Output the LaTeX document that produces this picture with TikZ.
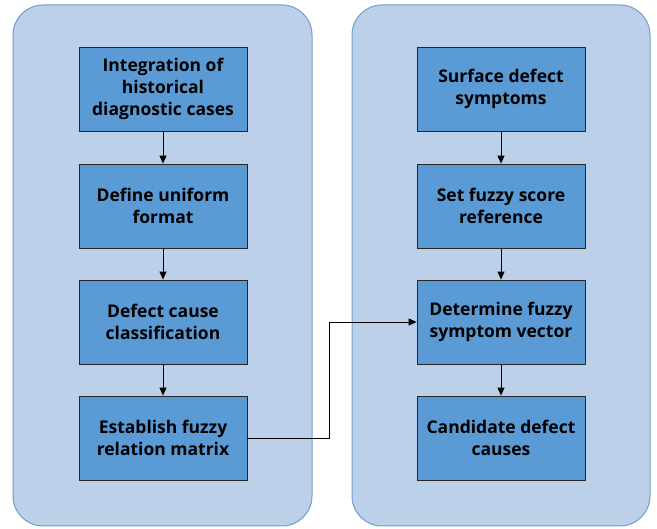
\documentclass[tikz,border=0pt]{standalone}
\usepackage{fontspec}
\setmainfont{Open Sans}
\usetikzlibrary{arrows.meta}
\definecolor{panelfill}{HTML}{BDD0E9}
\definecolor{paneldraw}{HTML}{6F9DCD}
\definecolor{boxfill}{HTML}{5B9BD5}
\tikzset{
  panel/.style={draw=paneldraw, fill=panelfill, line width=1pt, rounded corners=30pt},
  stepbox/.style={draw=black!85, fill=boxfill, line width=0.8pt, minimum width=168pt, minimum height=84pt, align=center, inner sep=2pt, font=\fontsize{17.5}{22}\selectfont\bfseries},
  arr/.style={-{Triangle[length=8pt,width=7pt]}, line width=0.9pt, black}
}
\begin{document}
\begin{tikzpicture}[x=1pt,y=-1pt]
\useasboundingbox (0,0) rectangle (657,529);
\draw[panel] (13,5) rectangle (312,526);
\draw[panel] (352,5) rectangle (650,526);
\node[stepbox] (a1) at (163,89) {Integration of\\historical\\diagnostic cases};
\node[stepbox] (a2) at (163,206) {Define uniform\\format};
\node[stepbox] (a3) at (163,322) {Defect cause\\classification};
\node[stepbox] (a4) at (163,438) {Establish fuzzy\\relation matrix};
\node[stepbox] (b1) at (501,89) {Surface defect\\symptoms};
\node[stepbox] (b2) at (501,206) {Set fuzzy score\\reference};
\node[stepbox] (b3) at (501,322) {Determine fuzzy\\symptom vector};
\node[stepbox] (b4) at (501,438) {Candidate defect\\causes};
\draw[arr] (a1) -- (a2);
\draw[arr] (a2) -- (a3);
\draw[arr] (a3) -- (a4);
\draw[arr] (b1) -- (b2);
\draw[arr] (b2) -- (b3);
\draw[arr] (b3) -- (b4);
\coordinate (m) at (329,0);
\draw[arr] (a4.east) -- (m |- a4.east) -- (m |- b3.west) -- (b3.west);
\end{tikzpicture}
\end{document}
